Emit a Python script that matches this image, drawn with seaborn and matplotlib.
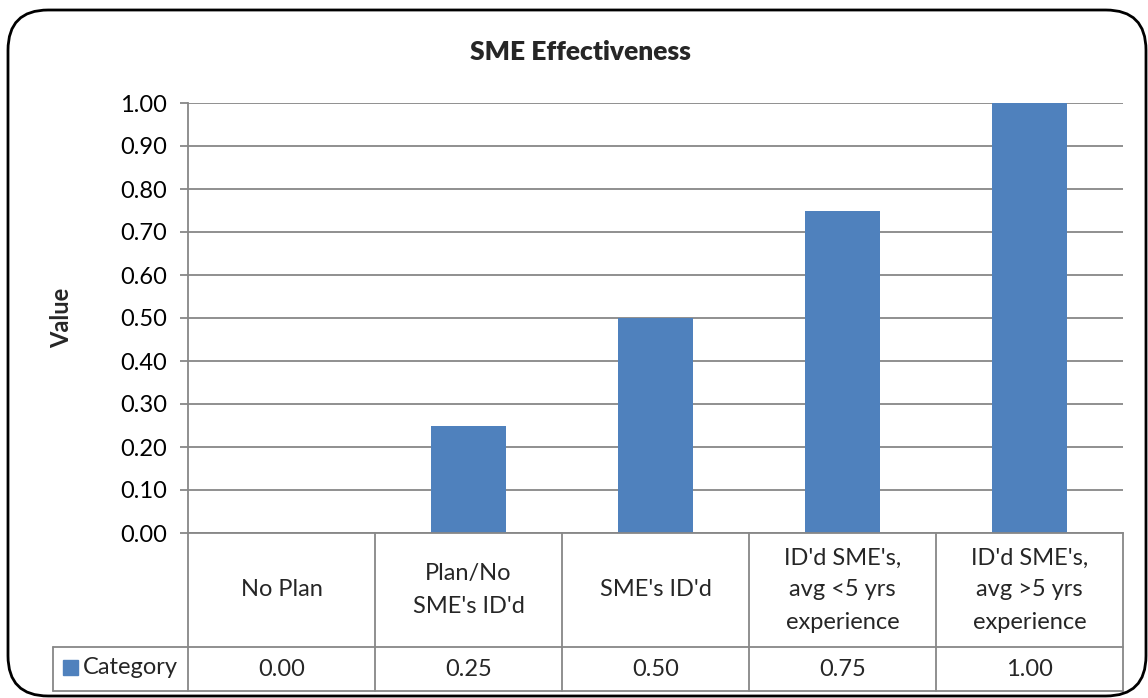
import matplotlib
matplotlib.use("Agg")
import matplotlib.pyplot as plt
import matplotlib.transforms as mtransforms
from matplotlib.patches import FancyBboxPatch, Rectangle
import seaborn as sns
import pandas as pd

# chart data
categories = ["No Plan", "Plan/No\nSME's ID'd", "SME's ID'd",
              "ID'd SME's,\navg <5 yrs\nexperience", "ID'd SME's,\navg >5 yrs\nexperience"]
values = [0.00, 0.25, 0.50, 0.75, 1.00]
series_name = "Category"
y_ticks = [0.0, 0.1, 0.2, 0.3, 0.4, 0.5, 0.6, 0.7, 0.8, 0.9, 1.0]

BAR = "#4F81BD"
GRID = "#878787"
W, H = 1148, 698
FS = 17

sns.set_theme(style="white")
plt.rcParams["font.family"] = ["Lato", "DejaVu Sans"]

df = pd.DataFrame({"cat": categories, "val": values})

fig = plt.figure(figsize=(W / 100, H / 100), dpi=100)
# plot area in pixel terms (left, top, right, bottom)
L, T, R, B = 188, 103, 1123, 533
ax = fig.add_axes([L / W, 1 - B / H, (R - L) / W, (B - T) / H])

sns.barplot(data=df, x="cat", y="val", color=BAR, width=0.4, saturation=1,
            edgecolor="none", ax=ax)

ax.set_ylim(0, 1.0)
ax.set_xlim(-0.5, len(categories) - 0.5)
ax.set_yticks(y_ticks)
ax.set_yticklabels([f"{t:.2f}" for t in y_ticks], fontsize=FS, color="black")
ax.set_xticks([])
ax.set_xlabel("")
ax.set_ylabel("")
ax.yaxis.grid(True, color=GRID, linewidth=1.3)
ax.set_axisbelow(True)
for s in ["top", "right"]:
    ax.spines[s].set_visible(False)
for s in ["left", "bottom"]:
    ax.spines[s].set_color(GRID)
    ax.spines[s].set_linewidth(1.3)
ax.tick_params(axis="y", which="major", left=True, length=6, width=1.3,
               color=GRID, pad=9)

fpx = lambda p: 1 - p / H
fig.text(580 / W, fpx(52), "SME Effectiveness", ha="center", va="center",
         fontsize=19, fontweight="heavy")
fig.text(62 / W, fpx(318), "Value", ha="center", va="center", rotation=90,
         fontsize=FS, fontweight="bold")

# data table below the plot (x in data units, y in figure pixels)
blend = mtransforms.blended_transform_factory(ax.transData, fig.transFigure)
row1_bot, row2_bot = 647, 691
n = len(categories)
for i in range(n + 1):
    ax.plot([i - 0.5, i - 0.5], [fpx(B), fpx(row2_bot)], transform=blend,
            color=GRID, lw=1.3, clip_on=False)
leg_left = 53 / W
for yy in [row1_bot, row2_bot]:
    fig.add_artist(plt.Line2D([leg_left, R / W], [fpx(yy), fpx(yy)],
                              color=GRID, lw=1.3))
fig.add_artist(plt.Line2D([leg_left, leg_left], [fpx(row1_bot), fpx(row2_bot)],
                          color=GRID, lw=1.3))
for i, (c, v) in enumerate(zip(categories, values)):
    ax.text(i, fpx((B + row1_bot) / 2), c, transform=blend, ha="center",
            va="center", fontsize=FS, linespacing=1.65)
    ax.text(i, fpx((row1_bot + row2_bot) / 2), f"{v:.2f}", transform=blend,
            ha="center", va="center", fontsize=FS)
# legend key in the table
fig.add_artist(Rectangle((63 / W, fpx(675)), 15 / W, 15 / H, color=BAR))
fig.text(83 / W, fpx(667), series_name, ha="left", va="center", fontsize=FS)

# rounded chart border
fig.add_artist(FancyBboxPatch((8 / W, 2 / H), 1138 / W, 686 / H,
                              boxstyle="round,pad=0,rounding_size=0.035",
                              transform=fig.transFigure, fill=False,
                              edgecolor="black", linewidth=2, mutation_aspect=W / H))

fig.savefig("out.png", dpi=100)
